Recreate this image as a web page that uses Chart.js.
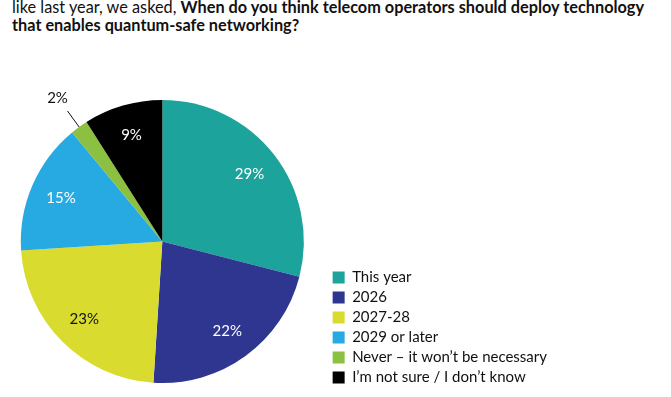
<!DOCTYPE html>
<html>
<head>
<meta charset="utf-8">
<script src="https://cdn.jsdelivr.net/npm/chart.js@4.4.1/dist/chart.umd.min.js"></script>
<style>
    html, body { margin: 0; padding: 0; background: #fff; }
    body { width: 671px; height: 397px; position: relative; overflow: hidden; font-family: Lato, sans-serif; }
    #title { position: absolute; left: 12px; top: -2px; font-size: 16.3px; line-height: 18px; color: #111; }
    #title b { font-weight: 700; }
    #wrap { position: absolute; left: -3px; top: 40px; width: 674px; height: 357px; }
</style>
</head>
<body>
<div id="title">like last year, we asked, <b>When do you think telecom operators should deploy technology<br>that enables quantum-safe networking?</b></div>
<div id="wrap"><canvas id="chart"></canvas></div>
<script>
// answers and their share of respondents (%)
var categories = ['This year', '2026', '2027-28', '2029 or later', 'Never \u2013 it won\u2019t be necessary', 'I\u2019m not sure / I don\u2019t know'];
var shares = [29, 22, 23, 15, 2, 9];
var sliceColors = ['#1ba39c', '#2e3690', '#d9dc2f', '#27aae1', '#8bc040', '#000000'];
var labelColors = ['#fff', '#fff', '#111', '#fff', '#111', '#fff'];

// percentage labels drawn on the slices (small slices get an outside label with a leader line)
var sliceLabels = {
    id: 'sliceLabels',
    afterLayout: function (chart) {
        // legend sits a bit lower than the pie bottom
        chart.legend.top += 7;
        chart.legend.bottom += 7;
    },
    afterDatasetsDraw: function (chart) {
        var ctx = chart.ctx;
        var meta = chart.getDatasetMeta(0);
        ctx.save();
        ctx.font = '15px Lato, sans-serif';
        ctx.textAlign = 'center';
        ctx.textBaseline = 'middle';
        meta.data.forEach(function (arc, i) {
            var p = arc.getProps(['x', 'y', 'startAngle', 'endAngle', 'outerRadius'], true);
            var mid = (p.startAngle + p.endAngle) / 2;
            var cos = Math.cos(mid), sin = Math.sin(mid);
            var text = shares[i] + '%';
            if (shares[i] < 5) {
                ctx.strokeStyle = '#111';
                ctx.lineWidth = 1;
                ctx.beginPath();
                ctx.moveTo(p.x + cos * p.outerRadius * 1.0, p.y + sin * p.outerRadius * 1.0);
                ctx.lineTo(p.x + cos * p.outerRadius * 1.14, p.y + sin * p.outerRadius * 1.14);
                ctx.stroke();
                ctx.fillStyle = labelColors[i];
                ctx.fillText(text, p.x + cos * p.outerRadius * 1.26, p.y + sin * p.outerRadius * 1.25);
            } else {
                var r = p.outerRadius * 0.78;
                ctx.fillStyle = labelColors[i];
                ctx.fillText(text, p.x + cos * r, p.y + sin * r);
            }
        });
        ctx.restore();
    }
};

new Chart(document.getElementById('chart'), {
    type: 'pie',
    data: {
        labels: categories,
        datasets: [{
            data: shares,
            backgroundColor: sliceColors,
            borderWidth: 0
        }]
    },
    plugins: [sliceLabels],
    options: {
        responsive: true,
        maintainAspectRatio: false,
        animation: false,
        layout: { padding: { left: -20, top: 60, bottom: 14, right: 114 } },
        plugins: {
            tooltip: { enabled: false },
            legend: {
                position: 'right',
                align: 'end',
                labels: {
                    boxWidth: 12,
                    boxHeight: 12,
                    padding: 5,
                    color: '#111',
                    font: { family: 'Lato, sans-serif', size: 15 }
                }
            }
        }
    }
});
</script>
</body>
</html>
